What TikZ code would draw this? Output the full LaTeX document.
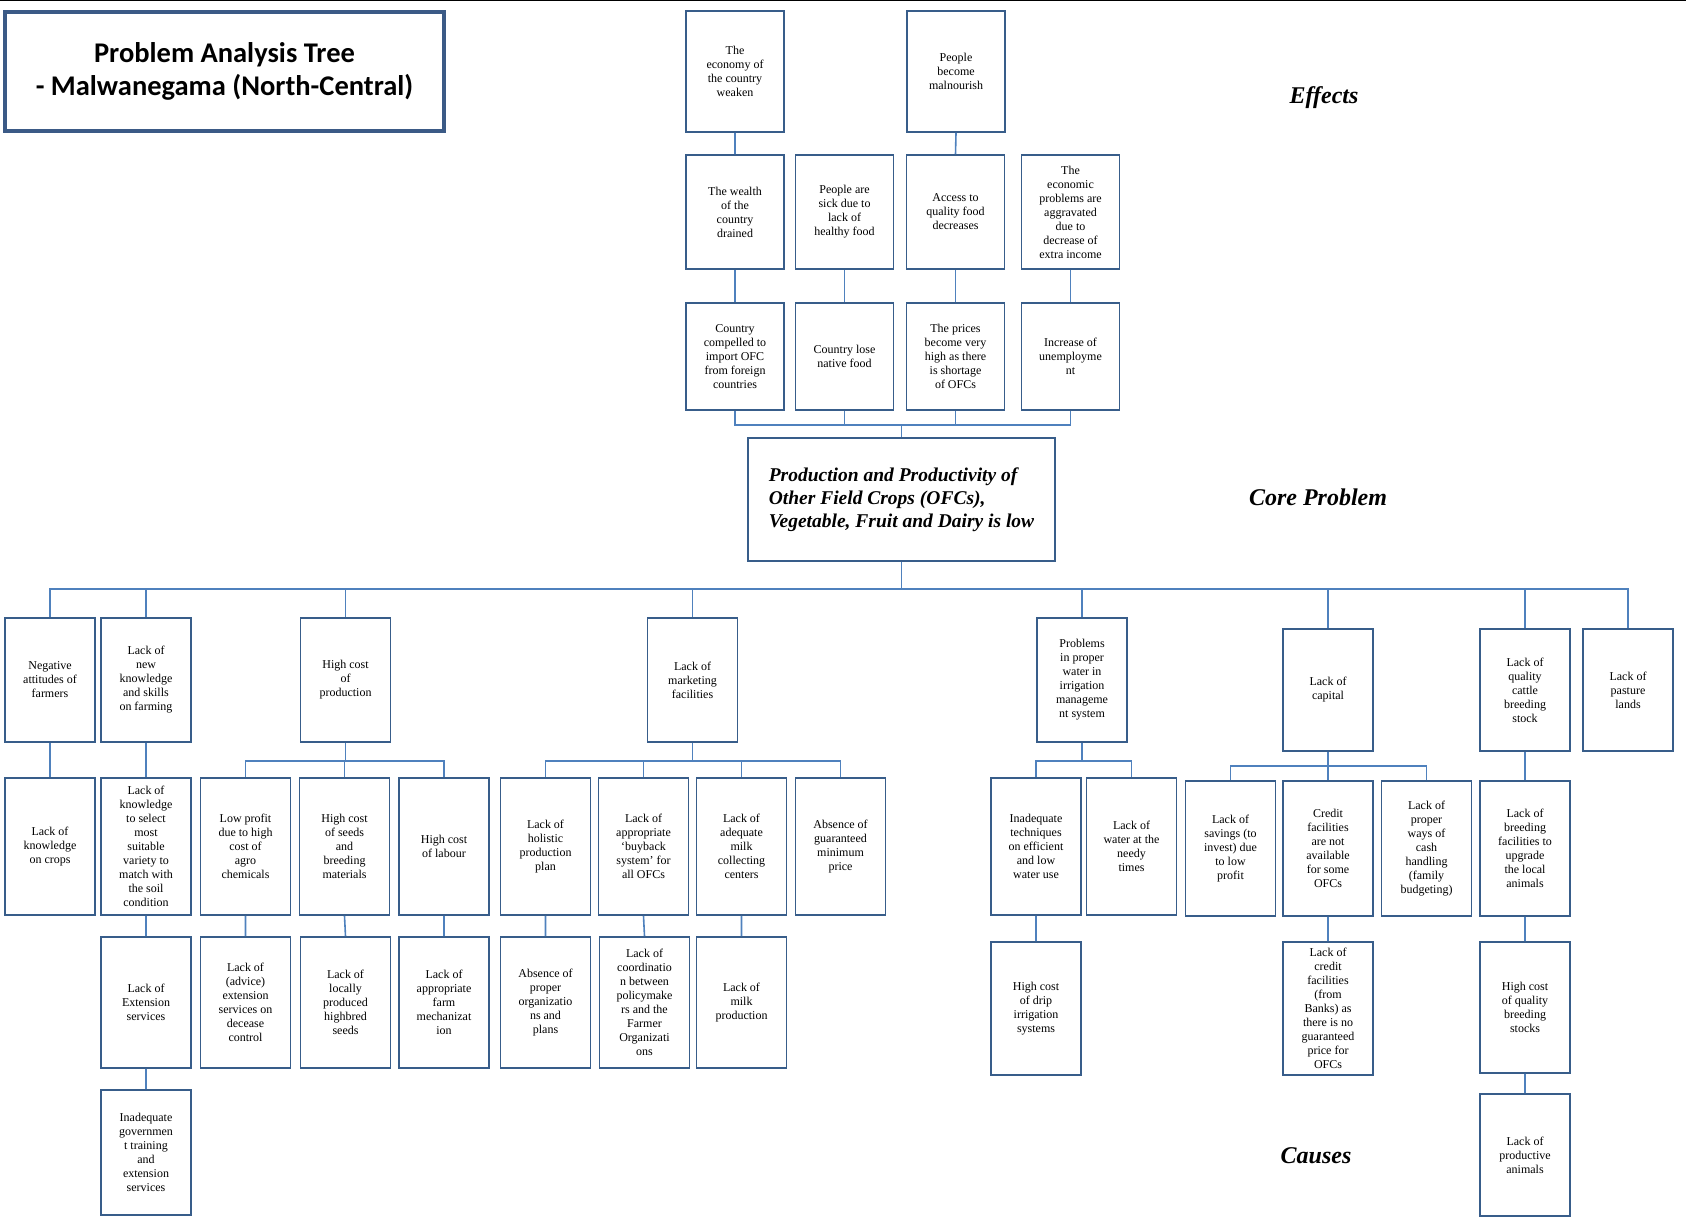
\documentclass[tikz,border=0pt]{standalone}
\usepackage{fontspec}
\setmainfont{Liberation Serif}
\newfontfamily\titlefont{Carlito}
\usepackage{tikz}
\definecolor{boxblue}{HTML}{385D8A}
\definecolor{linkblue}{HTML}{4F81BD}
\definecolor{titleblue}{HTML}{3B5A86}
\tikzset{
  box/.style={draw=boxblue, line width=1.6pt, align=center, inner sep=1pt,
    font=\fontsize{12}{14}\selectfont, minimum width=90},
  effbox/.style={box, minimum width=98},
  link/.style={draw=linkblue, line width=1.6pt},
  side/.style={font=\fontsize{24}{28}\selectfont\bfseries\itshape},
}

\begin{document}
\begin{tikzpicture}[x=1pt, y=-1pt]
\useasboundingbox (0,0) rectangle (1686,1223);
\draw[black, line width=1.2pt] (0,0.6) -- (1686,0.6);

\node[draw=titleblue, line width=4pt, minimum width=439, minimum height=119, align=center,
  font=\titlefont\fontsize{28.5}{33}\selectfont\bfseries] (title) at (224.5,71.5)
  {Problem Analysis Tree\\- Malwanegama (North-Central)};

\node[effbox, minimum height=121] (econ) at (735,71.5) {The\\economy of\\the country\\weaken};
\node[effbox, minimum height=121] (malnu) at (956,71.5) {People\\become\\malnourish};

\node[effbox, minimum height=114] (wealth) at (735,212) {The wealth\\of the\\country\\drained};
\node[effbox, minimum height=114] (sick) at (844.5,212) {People are\\sick due to\\lack of\\healthy food};
\node[effbox, minimum height=114] (access) at (955.5,212) {Access to\\quality food\\decreases};
\node[effbox, minimum height=114] (extra) at (1070.5,212) {The\\economic\\problems are\\aggravated\\due to\\decrease of\\extra income};

\node[effbox, minimum height=107] (import) at (735,356.5) {Country\\compelled to\\import OFC\\from foreign\\countries};
\node[effbox, minimum height=107] (native) at (844.5,356.5) {Country lose\\native food};
\node[effbox, minimum height=107] (prices) at (955.5,356.5) {The prices\\become very\\high as there\\is shortage\\of OFCs};
\node[effbox, minimum height=107] (jobs) at (1070.5,356.5) {Increase of\\unemployme\\nt};

\node[draw=boxblue, line width=1.6pt, minimum width=307, minimum height=123, align=left,
  font=\fontsize{19.5}{23}\selectfont\bfseries\itshape] (core) at (901.5,499.5)
  {Production and Productivity of\\Other Field Crops (OFCs),\\Vegetable, Fruit and Dairy is low};

\node[side] (effects) at (1324,98) {Effects};
\node[side] (coreprob) at (1318,497) {Core Problem};
\node[side] (causes) at (1316,1156) {Causes};

\node[box, minimum height=124] (attit) at (50,680) {Negative\\attitudes of\\farmers};
\node[box, minimum height=124] (newknow) at (146,680) {Lack of\\new\\knowledge\\and skills\\on farming};
\node[box, minimum height=124] (cost) at (345.5,680) {High cost\\of\\production};
\node[box, minimum height=124] (market) at (692.5,680) {Lack of\\marketing\\facilities};
\node[box, minimum height=124] (water) at (1082,680) {Problems\\in proper\\water in\\irrigation\\manageme\\nt system};
\node[box, minimum height=122] (capital) at (1328,690) {Lack of\\capital};
\node[box, minimum height=122] (cattle) at (1525,690) {Lack of\\quality\\cattle\\breeding\\stock};
\node[box, minimum height=122] (pasture) at (1628,690) {Lack of\\pasture\\lands};

\node[box, minimum height=137] (cropknow) at (50,846.5) {Lack of\\knowledge\\on crops};
\node[box, minimum height=137] (variety) at (146,846.5) {Lack of\\knowledge\\to select\\most\\suitable\\variety to\\match with\\the soil\\condition};
\node[box, minimum height=137] (agro) at (245.5,846.5) {Low profit\\due to high\\cost of\\agro\\chemicals};
\node[box, minimum height=137] (seeds) at (344.5,846.5) {High cost\\of seeds\\and\\breeding\\materials};
\node[box, minimum height=137] (labour) at (444,846.5) {High cost\\of labour};
\node[box, minimum height=137] (plan) at (545.5,846.5) {Lack of\\holistic\\production\\plan};
\node[box, minimum height=137] (buyback) at (643.5,846.5) {Lack of\\appropriate\\‘buyback\\system’ for\\all OFCs};
\node[box, minimum height=137] (milkcol) at (741.5,846.5) {Lack of\\adequate\\milk\\collecting\\centers};
\node[box, minimum height=137] (minprice) at (840.5,846.5) {Absence of\\guaranteed\\minimum\\price};
\node[box, minimum height=137] (techn) at (1036,846.5) {Inadequate\\techniques\\on efficient\\and low\\water use};
\node[box, minimum height=137] (needy) at (1131.5,846.5) {Lack of\\water at the\\needy\\times};
\node[box, minimum height=135] (savings) at (1230.5,848.5) {Lack of\\savings (to\\invest) due\\to low\\profit};
\node[box, minimum height=135] (credit) at (1328,848.5) {Credit\\facilities\\are not\\available\\for some\\OFCs};
\node[box, minimum height=135] (cash) at (1426.5,848.5) {Lack of\\proper\\ways of\\cash\\handling\\(family\\budgeting)};
\node[box, minimum height=135] (upgrade) at (1525,848.5) {Lack of\\breeding\\facilities to\\upgrade\\the local\\animals};

\node[box, minimum height=131] (extens) at (146,1002.5) {Lack of\\Extension\\services};
\node[box, minimum height=131] (decease) at (245.5,1002.5) {Lack of\\(advice)\\extension\\services on\\decease\\control};
\node[box, minimum height=131] (hybrid) at (345.5,1002.5) {Lack of\\locally\\produced\\highbred\\seeds};
\node[box, minimum height=131] (mechan) at (444,1002.5) {Lack of\\appropriate\\farm\\mechanizat\\ion};
\node[box, minimum height=131] (orgs) at (545.5,1002.5) {Absence of\\proper\\organizatio\\ns and\\plans};
\node[box, minimum height=131] (coord) at (644.5,1002.5) {Lack of\\coordinatio\\n between\\policymake\\rs and the\\Farmer\\Organizati\\ons};
\node[box, minimum height=131] (milkprod) at (741.5,1002.5) {Lack of\\milk\\production};
\node[box, minimum height=133] (drip) at (1036,1008.5) {High cost\\of drip\\irrigation\\systems};
\node[box, minimum height=133] (banks) at (1328,1008.5) {Lack of\\credit\\facilities\\(from\\Banks) as\\there is no\\guaranteed\\price for\\OFCs};
\node[box, minimum height=131] (stocks) at (1525,1007.5) {High cost\\of quality\\breeding\\stocks};

\node[box, minimum height=125] (govt) at (146,1152.5) {Inadequate\\governmen\\t training\\and\\extension\\services};
\node[box, minimum height=122] (animals) at (1525,1155) {Lack of\\productive\\animals};

\coordinate (effbus) at (0,425);
\coordinate (causebus) at (0,589);
\coordinate (subbus) at (0,761);
\coordinate (capbus) at (0,766);

\draw[link] (econ.south) -- (wealth.north) (malnu.south) -- (access.north);
\draw[link] (wealth.south) -- (import.north) (sick.south) -- (native.north)
  (access.south) -- (prices.north) (extra.south) -- (jobs.north);
\draw[link] (core.north) |- (import.south |- effbus) -- (import.south);
\draw[link] (core.north) |- (native.south |- effbus) -- (native.south);
\draw[link] (core.north) |- (prices.south |- effbus) -- (prices.south);
\draw[link] (core.north) |- (jobs.south |- effbus) -- (jobs.south);

\draw[link] (core.south) |- (attit.north |- causebus) -- (attit.north);
\draw[link] (core.south) |- (newknow.north |- causebus) -- (newknow.north);
\draw[link] (core.south) |- (cost.north |- causebus) -- (cost.north);
\draw[link] (core.south) |- (market.north |- causebus) -- (market.north);
\draw[link] (core.south) |- (water.north |- causebus) -- (water.north);
\draw[link] (core.south) |- (capital.north |- causebus) -- (capital.north);
\draw[link] (core.south) |- (cattle.north |- causebus) -- (cattle.north);
\draw[link] (core.south) |- (pasture.north |- causebus) -- (pasture.north);

\draw[link] (cost.south) |- (agro.north |- subbus) -- (agro.north);
\draw[link] (cost.south) |- (seeds.north |- subbus) -- (seeds.north);
\draw[link] (cost.south) |- (labour.north |- subbus) -- (labour.north);
\draw[link] (market.south) |- (plan.north |- subbus) -- (plan.north);
\draw[link] (market.south) |- (buyback.north |- subbus) -- (buyback.north);
\draw[link] (market.south) |- (milkcol.north |- subbus) -- (milkcol.north);
\draw[link] (market.south) |- (minprice.north |- subbus) -- (minprice.north);
\draw[link] (water.south) |- (techn.north |- subbus) -- (techn.north);
\draw[link] (water.south) |- (needy.north |- subbus) -- (needy.north);
\draw[link] (capital.south) |- (savings.north |- capbus) -- (savings.north);
\draw[link] (capital.south) |- (credit.north |- capbus) -- (credit.north);
\draw[link] (capital.south) |- (cash.north |- capbus) -- (cash.north);

\draw[link] (attit.south) -- (cropknow.north) (newknow.south) -- (variety.north)
  (cattle.south) -- (upgrade.north);
\draw[link] (variety.south) -- (extens.north) (extens.south) -- (govt.north)
  (agro.south) -- (decease.north) (seeds.south) -- (hybrid.north)
  (labour.south) -- (mechan.north) (plan.south) -- (orgs.north)
  (buyback.south) -- (coord.north) (milkcol.south) -- (milkprod.north)
  (techn.south) -- (drip.north) (credit.south) -- (banks.north)
  (upgrade.south) -- (stocks.north) (stocks.south) -- (animals.north);
\end{tikzpicture}
\end{document}
